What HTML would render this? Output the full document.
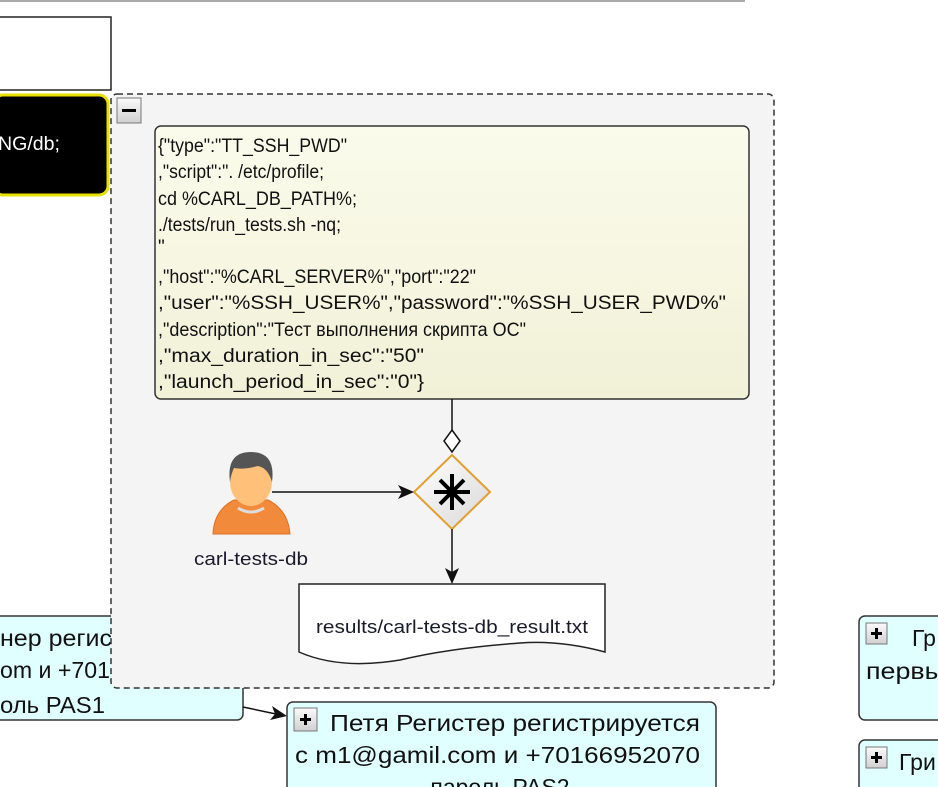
<!DOCTYPE html>
<html><head><meta charset="utf-8"><style>
html,body{margin:0;padding:0;background:#fff;width:938px;height:787px;overflow:hidden}
svg{display:block}
text{font-family:"Liberation Sans","DejaVu Sans",sans-serif}
</style></head><body>
<svg width="938" height="787" viewBox="0 0 938 787" xmlns="http://www.w3.org/2000/svg">
<defs>
<linearGradient id="note" x1="0" y1="0" x2="0" y2="1"><stop offset="0" stop-color="#fbfbec"/><stop offset="1" stop-color="#f1f1d8"/></linearGradient>
<linearGradient id="dia" x1="0" y1="0" x2="1" y2="1"><stop offset="0" stop-color="#ffffff"/><stop offset="1" stop-color="#d8d8d8"/></linearGradient>
<linearGradient id="btn" x1="0" y1="0" x2="0" y2="1"><stop offset="0" stop-color="#fafafa"/><stop offset="1" stop-color="#d0d0d0"/></linearGradient>
</defs>
<line x1="0" y1="1" x2="745" y2="1" stroke="#aaa" stroke-width="2"/>
<rect x="-2" y="17" width="113" height="73" fill="#fff" stroke="#222" stroke-width="1.5"/>
<rect x="-6" y="95" width="114" height="100" rx="9" fill="#000" stroke="#e8e000" stroke-width="3"/>
<text x="-2" y="150" fill="#fff" font-size="19" textLength="62" lengthAdjust="spacingAndGlyphs">NG/db;</text>

<!-- left cyan box -->
<rect x="-6" y="616" width="249" height="104" rx="6" fill="#e0ffff" stroke="#333" stroke-width="1.5"/>
<g font-size="23" fill="#111">
<text x="0" y="646" textLength="112" lengthAdjust="spacingAndGlyphs">нер регис</text>
<text x="0" y="678" textLength="110" lengthAdjust="spacingAndGlyphs">om и +701</text>
<text x="0" y="713" textLength="105" lengthAdjust="spacingAndGlyphs">оль PAS1</text>
</g>

<!-- group -->
<rect x="111" y="94" width="663" height="594" rx="6" fill="#f4f4f4" stroke="#333" stroke-width="1.5" stroke-dasharray="6,4"/>
<rect x="117" y="98" width="24" height="25" fill="url(#btn)" stroke="#777"/>
<rect x="122" y="109" width="14" height="3" fill="#000"/>

<rect x="155" y="126" width="594" height="273" rx="6" fill="url(#note)" stroke="#333" stroke-width="1.5"/>
<g font-size="19" fill="#111">
<text x="158" y="152" textLength="189" lengthAdjust="spacingAndGlyphs">{"type":"TT_SSH_PWD"</text>
<text x="158" y="178" textLength="166" lengthAdjust="spacingAndGlyphs">,"script":". /etc/profile;</text>
<text x="158" y="205" textLength="199" lengthAdjust="spacingAndGlyphs">cd %CARL_DB_PATH%;</text>
<text x="158" y="231" textLength="183" lengthAdjust="spacingAndGlyphs">./tests/run_tests.sh -nq;</text>
<text x="158" y="253">"</text>
<text x="158" y="283" textLength="318" lengthAdjust="spacingAndGlyphs">,"host":"%CARL_SERVER%","port":"22"</text>
<text x="158" y="309" textLength="568" lengthAdjust="spacingAndGlyphs">,"user":"%SSH_USER%","password":"%SSH_USER_PWD%"</text>
<text x="158" y="336" textLength="368" lengthAdjust="spacingAndGlyphs">,"description":"Тест выполнения скрипта ОС"</text>
<text x="158" y="362" textLength="266" lengthAdjust="spacingAndGlyphs">,"max_duration_in_sec":"50"</text>
<text x="158" y="388" textLength="266" lengthAdjust="spacingAndGlyphs">,"launch_period_in_sec":"0"}</text>
</g>

<line x1="452" y1="399" x2="452" y2="430" stroke="#111" stroke-width="1.5"/>
<polygon points="452,430 460,441 452,452 444,441" fill="#fff" stroke="#111" stroke-width="1.5"/>
<polygon points="452,455 490,492 452,529 414,492" fill="url(#dia)" stroke="#e0a030" stroke-width="2"/>
<g stroke="#000" stroke-width="4" stroke-linecap="butt">
<line x1="452" y1="474" x2="452" y2="510"/><line x1="434" y1="492" x2="470" y2="492"/>
<line x1="440" y1="480" x2="464" y2="504"/><line x1="464" y1="480" x2="440" y2="504"/>
</g>
<line x1="452" y1="529" x2="452" y2="572" stroke="#111" stroke-width="1.5"/>
<polygon points="452,584 445,568 452,572 459,568" fill="#111"/>

<!-- person -->
<line x1="272" y1="492" x2="402" y2="492" stroke="#111" stroke-width="1.5"/>
<polygon points="414,492 398,485 402,492 398,499" fill="#111"/>
<path d="M213,534 Q214,510 234,500 L268,500 Q288,510 290,534 Z" fill="#f28a3c" stroke="#e07020"/>
<path d="M238,508 Q251,516 264,508" fill="none" stroke="#ddd" stroke-width="3"/>
<ellipse cx="251" cy="482" rx="21" ry="24" fill="#ffc07a"/>
<path d="M230,482 Q226,452 251,452 Q276,452 272,482 Q268,468 258,466 Q244,470 234,468 Q231,474 230,482 Z" fill="#555"/>
<text x="194" y="565" font-size="18" fill="#1a1a2a" textLength="114" lengthAdjust="spacingAndGlyphs">carl-tests-db</text>

<!-- document -->
<path d="M299,584 L605,584 L605,652 Q560,640 520,643 Q450,648 400,660 Q340,670 299,652 Z" fill="#fff" stroke="#222" stroke-width="1.5"/>
<text x="316" y="633" font-size="18" fill="#1a1a2a" textLength="272" lengthAdjust="spacingAndGlyphs">results/carl-tests-db_result.txt</text>

<!-- arrow to bottom box -->
<line x1="243" y1="707" x2="276" y2="714" stroke="#111" stroke-width="1.5"/>
<polygon points="287,716 272,706 275,714 270,720" fill="#111"/>

<rect x="287" y="702" width="429" height="100" rx="6" fill="#e0ffff" stroke="#333" stroke-width="1.5"/>
<rect x="294" y="708" width="23" height="23" fill="url(#btn)" stroke="#777"/>
<rect x="300" y="718" width="11" height="3" fill="#000"/><rect x="304" y="714" width="3" height="11" fill="#000"/>
<g font-size="23" fill="#111">
<text x="330" y="731" textLength="370" lengthAdjust="spacingAndGlyphs">Петя Регистер регистрируется</text>
<text x="295" y="763" textLength="405" lengthAdjust="spacingAndGlyphs">с m1@gamil.com и +70166952070</text>
<text x="500" y="795" text-anchor="middle">пароль PAS2</text>
</g>

<!-- right boxes -->
<rect x="859" y="616" width="90" height="104" rx="6" fill="#e0ffff" stroke="#333" stroke-width="1.5"/>
<rect x="866" y="623" width="21" height="21" fill="url(#btn)" stroke="#777"/>
<rect x="871" y="632" width="11" height="3" fill="#000"/><rect x="875" y="628" width="3" height="11" fill="#000"/>
<text x="912" y="646" font-size="23" fill="#111">Гр</text>
<text x="866" y="679" font-size="23" fill="#111" textLength="78" lengthAdjust="spacingAndGlyphs">первы</text>
<rect x="859" y="740" width="90" height="60" rx="6" fill="#e0ffff" stroke="#333" stroke-width="1.5"/>
<rect x="866" y="747" width="21" height="21" fill="url(#btn)" stroke="#777"/>
<rect x="871" y="756" width="11" height="3" fill="#000"/><rect x="875" y="752" width="3" height="11" fill="#000"/>
<text x="899" y="770" font-size="23" fill="#111">Гри</text>
</svg>
</body></html>
